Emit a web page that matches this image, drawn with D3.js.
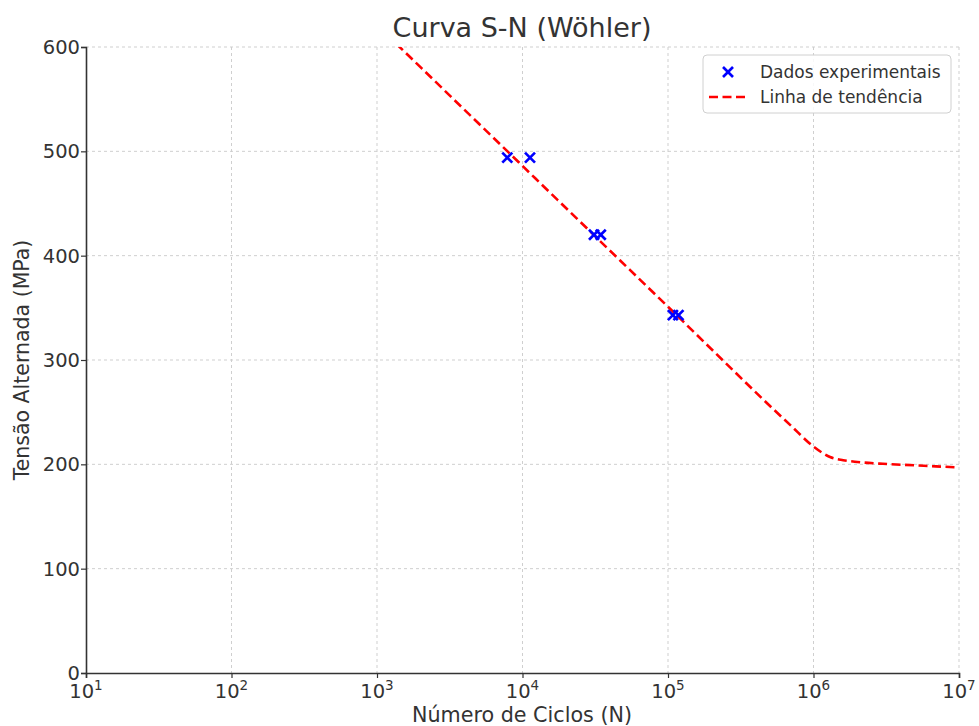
<!DOCTYPE html>
<html>
<head>
<meta charset="utf-8">
<script src="https://cdn.jsdelivr.net/npm/d3@7/dist/d3.min.js"></script>
<style>
  html, body { margin: 0; padding: 0; background: #fff; }
  svg { display: block; font-family: "DejaVu Sans", sans-serif; }
</style>
</head>
<body>
<svg id="chart" width="979" height="726"></svg>
<script>
// ---- data ----
const cyclesData = [7860, 11260, 31000, 34500, 108000, 118000];
const stressData = [494, 494, 420, 420, 343, 343];

const trendCycles = [1000, 10000, 100000, 700000, 1000000, 1150000, 1300000, 1600000, 2000000, 3000000, 5000000, 10000000];
const trendStress = [621, 486, 351, 237, 217, 211, 207, 204, 202.3, 200.5, 199, 197];

const xTickValues = [1e1, 1e2, 1e3, 1e4, 1e5, 1e6, 1e7];
const yTickValues = [0, 100, 200, 300, 400, 500, 600];

const titleText = "Curva S-N (Wöhler)";
const xLabelText = "Número de Ciclos (N)";
const yLabelText = "Tensão Alternada (MPa)";
const legendLabels = ["Dados experimentais", "Linha de tendência"];

// ---- layout ----
const svg = d3.select("#chart");
const m = { left: 86, right: 959, top: 47, bottom: 673 };

const x = d3.scaleLog().domain([1e1, 1e7]).range([m.left, m.right]);
const y = d3.scaleLinear().domain([0, 600]).range([m.bottom, m.top]);

// grid
const grid = svg.append("g");
grid.selectAll("line.gx").data(xTickValues.slice(1)).enter().append("line")
  .attr("x1", d => x(d)).attr("x2", d => x(d))
  .attr("y1", m.top).attr("y2", m.bottom)
  .attr("stroke", "#cfcfcf").attr("stroke-width", 1).attr("stroke-dasharray", "3,3");
grid.selectAll("line.gy").data(yTickValues.slice(1)).enter().append("line")
  .attr("x1", m.left).attr("x2", m.right)
  .attr("y1", d => y(d)).attr("y2", d => y(d))
  .attr("stroke", "#cfcfcf").attr("stroke-width", 1).attr("stroke-dasharray", "3,3");

// clip
svg.append("clipPath").attr("id", "clip").append("rect")
  .attr("x", m.left).attr("y", m.top).attr("width", m.right - m.left).attr("height", m.bottom - m.top);

// trend line
const trend = trendCycles.map((c, i) => [c, trendStress[i]]);
svg.append("path")
  .datum(trend)
  .attr("clip-path", "url(#clip)")
  .attr("fill", "none")
  .attr("stroke", "#ff0000")
  .attr("stroke-width", 2.6)
  .attr("stroke-dasharray", "9,4.5")
  .attr("d", d3.line().curve(d3.curveMonotoneX).x(d => x(d[0])).y(d => y(d[1])));

// markers
const pts = cyclesData.map((c, i) => [c, stressData[i]]);
const s = 5;
const mk = svg.append("g").attr("stroke", "#0000ff").attr("stroke-width", 2.7);
pts.forEach(p => {
  const cx = x(p[0]), cy = y(p[1]);
  mk.append("line").attr("x1", cx - s).attr("y1", cy - s).attr("x2", cx + s).attr("y2", cy + s);
  mk.append("line").attr("x1", cx - s).attr("y1", cy + s).attr("x2", cx + s).attr("y2", cy - s);
});

// axes
const xAxis = svg.append("g").attr("transform", `translate(0,${m.bottom})`)
  .call(d3.axisBottom(x).tickValues(xTickValues).tickSize(5).tickFormat(""));
const yAxis = svg.append("g").attr("transform", `translate(${m.left},0)`)
  .call(d3.axisLeft(y).tickValues(yTickValues).tickSize(5).tickFormat(""));
[xAxis, yAxis].forEach(a => {
  a.select(".domain").attr("stroke", "#333").attr("stroke-width", 1.6);
  a.selectAll(".tick line").attr("stroke", "#333").attr("stroke-width", 1.2);
});

// x tick labels with superscripts
xTickValues.forEach(v => {
  const t = svg.append("text")
    .attr("x", x(v)).attr("y", 698)
    .attr("text-anchor", "middle")
    .attr("font-size", 19.5).attr("fill", "#333");
  t.append("tspan").text("10");
  t.append("tspan").attr("dy", -8).attr("font-size", 13.5).text(String(Math.round(Math.log10(v))));
});

// y tick labels
yTickValues.forEach(v => {
  svg.append("text")
    .attr("x", 80).attr("y", y(v) + 7)
    .attr("text-anchor", "end")
    .attr("font-size", 19.5).attr("fill", "#333")
    .text(v);
});

// title & labels
svg.append("text").attr("x", 522).attr("y", 37).attr("text-anchor", "middle")
  .attr("font-size", 27).attr("fill", "#333").text(titleText);
svg.append("text").attr("x", 522).attr("y", 722).attr("text-anchor", "middle")
  .attr("font-size", 20.7).attr("fill", "#333").text(xLabelText);
svg.append("text").attr("transform", "translate(29,360) rotate(-90)").attr("text-anchor", "middle")
  .attr("font-size", 20.5).attr("fill", "#333").text(yLabelText);

// legend
const lg = svg.append("g");
lg.append("rect").attr("x", 703).attr("y", 55).attr("width", 248).attr("height", 58)
  .attr("rx", 4).attr("fill", "#fff").attr("fill-opacity", 0.85)
  .attr("stroke", "#d0d0d0").attr("stroke-width", 1);
const lx = 728, ly = 72;
lg.append("line").attr("x1", lx - s).attr("y1", ly - s).attr("x2", lx + s).attr("y2", ly + s)
  .attr("stroke", "#0000ff").attr("stroke-width", 2.7);
lg.append("line").attr("x1", lx - s).attr("y1", ly + s).attr("x2", lx + s).attr("y2", ly - s)
  .attr("stroke", "#0000ff").attr("stroke-width", 2.7);
lg.append("text").attr("x", 760).attr("y", 78).attr("font-size", 17).attr("fill", "#333").text(legendLabels[0]);
lg.append("line").attr("x1", 709).attr("x2", 746).attr("y1", 97).attr("y2", 97)
  .attr("stroke", "#ff0000").attr("stroke-width", 2.6).attr("stroke-dasharray", "9,4.5");
lg.append("text").attr("x", 760).attr("y", 103).attr("font-size", 17).attr("fill", "#333").text(legendLabels[1]);
</script>
</body>
</html>
